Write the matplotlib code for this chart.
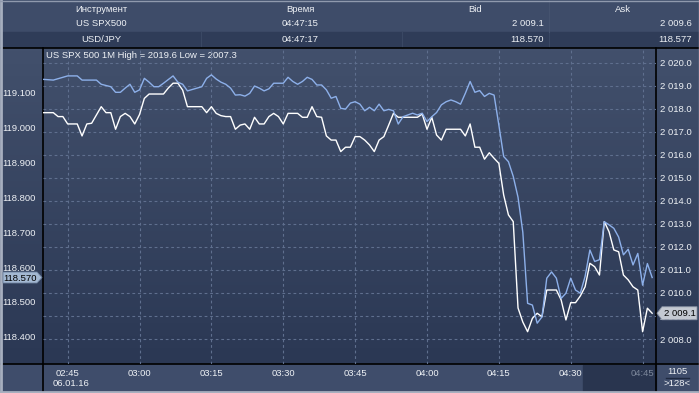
import matplotlib
matplotlib.use("Agg")
import matplotlib.pyplot as plt
import numpy as np
from matplotlib.patches import Rectangle, Polygon

plt.rcParams['font.family'] = ['Liberation Sans', 'DejaVu Sans']

W, H = 699, 393

# minutes after 02:40 (06.01.16), USD/JPY close (left scale, blue line)
jpy_t = [0, 2, 5, 7, 8, 11, 12, 14, 15, 16, 17, 18, 19, 20, 21, 22, 23, 24, 25, 27,
         28, 29, 30, 32, 33, 34, 35, 36, 37, 38, 39, 40, 41, 42, 43, 44, 45, 46, 47, 48,
         50, 51, 52, 53, 54, 55, 56, 57, 58, 59, 60, 61, 62, 63, 64, 65, 66, 67, 68, 69,
         70, 71, 72, 73, 74, 75, 76, 77, 78, 79, 80, 81, 82, 83, 84, 85, 86, 87, 88, 89,
         90, 91, 92, 93, 94, 95, 96, 97, 98, 99, 100, 101, 102, 103, 104, 105, 106, 107, 108, 109,
         110, 111, 112, 113, 114, 115, 116, 117, 118, 119, 120, 121, 122, 123, 124, 125, 126, 127]
jpy_v = [119.138, 119.136, 119.148, 119.148, 119.136, 119.136, 119.124, 119.117, 119.101, 119.101,
         119.113, 119.124, 119.101, 119.108, 119.141, 119.130, 119.117, 119.117, 119.127, 119.148,
         119.130, 119.124, 119.105, 119.113, 119.117, 119.141, 119.151, 119.139, 119.130, 119.124,
         119.113, 119.093, 119.094, 119.090, 119.098, 119.119, 119.113, 119.105, 119.111, 119.127,
         119.127, 119.144, 119.132, 119.124, 119.132, 119.144, 119.138, 119.122, 119.122, 119.108,
         119.084, 119.089, 119.055, 119.053, 119.070, 119.074, 119.067, 119.048, 119.058, 119.048,
         119.067, 119.048, 119.052, 119.048, 119.010, 119.031, 119.036, 119.041, 119.036, 119.041,
         119.017, 119.031, 119.043, 119.065, 119.074, 119.079, 119.074, 119.067, 119.098, 119.132,
         119.101, 119.106, 119.089, 119.098, 119.093, 119.007, 118.917, 118.902, 118.860, 118.800,
         118.700, 118.496, 118.491, 118.439, 118.457, 118.568, 118.586, 118.568, 118.510, 118.525,
         118.568, 118.534, 118.525, 118.573, 118.649, 118.616, 118.621, 118.730, 118.721, 118.711,
         118.686, 118.635, 118.651, 118.606, 118.639, 118.548, 118.610, 118.570]

# US SPX 500 close (right scale, white line)
spx_t = [0, 2, 3, 4, 5, 7, 8, 9, 10, 12, 13, 14, 15, 16, 17, 18, 19, 20, 21, 22,
         25, 26, 27, 28, 29, 30, 33, 34, 35, 36, 37, 38, 39, 40, 41, 42, 43, 44, 45, 46,
         47, 48, 49, 50, 51, 53, 54, 55, 56, 57, 58, 59, 60, 61, 62, 63, 64, 65, 66, 67,
         68, 69, 70, 71, 72, 73, 74, 78, 79, 80, 81, 82, 83, 84, 87, 88, 89, 90, 91, 92,
         93, 94, 95, 96, 97, 98, 99, 100, 101, 102, 103, 104, 105, 107, 108, 109, 110, 111, 112, 113,
         114, 115, 116, 117, 118, 119, 120, 121, 122, 123, 124, 125, 126, 127]
spx_v = [2017.83, 2017.83, 2017.66, 2017.66, 2017.34, 2017.34, 2016.82, 2017.34, 2017.37, 2018.09,
         2017.83, 2017.83, 2017.11, 2017.66, 2017.80, 2017.66, 2017.34, 2017.75, 2018.45, 2018.64,
         2018.64, 2018.90, 2019.11, 2019.11, 2018.81, 2018.09, 2018.09, 2017.83, 2018.09, 2017.80,
         2017.70, 2017.66, 2017.66, 2017.11, 2017.29, 2017.34, 2017.11, 2017.63, 2017.34, 2017.34,
         2017.66, 2017.80, 2017.66, 2017.34, 2017.80, 2017.80, 2017.63, 2017.63, 2018.09, 2017.66,
         2017.63, 2016.82, 2016.64, 2016.64, 2016.14, 2016.33, 2016.33, 2016.79, 2016.79, 2016.64,
         2016.43, 2016.14, 2016.64, 2016.79, 2017.29, 2017.80, 2017.63, 2017.63, 2017.77, 2017.11,
         2017.63, 2016.86, 2016.64, 2017.11, 2017.11, 2016.82, 2017.34, 2016.33, 2016.33, 2015.81,
         2016.09, 2015.85, 2015.63, 2014.26, 2013.39, 2013.10, 2009.35, 2008.74, 2008.32, 2008.90,
         2009.12, 2008.97, 2010.13, 2010.13, 2009.70, 2008.83, 2009.58, 2009.58, 2009.87, 2010.27,
         2011.29, 2011.14, 2010.78, 2013.10, 2012.66, 2011.87, 2011.79, 2010.78, 2010.57, 2010.27,
         2010.13, 2008.32, 2009.34, 2009.12]

tick_t = [5, 20, 35, 50, 65, 80, 95, 110, 125]
tick_lab = ["02:45", "03:00", "03:15", "03:30", "03:45", "04:00", "04:15", "04:30", "04:45"]
spx_ticks = list(range(2008, 2021))
jpy_ticks = [118.4, 118.5, 118.6, 118.7, 118.8, 118.9, 119.0, 119.1]

head_cols = ["Инструмент", "Время", "Bid", "Ask"]
rows = [["US SPX500", "04:47:15", "2 009.1", "2 009.6"],
        ["USD/JPY", "04:47:17", "118.570", "118.577"]]

txt = '#eef1f5'
fs = 6.8

fig = plt.figure(figsize=(W / 100, H / 100), dpi=100)

# background in pixel coords
bg = fig.add_axes([0, 0, 1, 1])
bg.set_xlim(0, W)
bg.set_ylim(H, 0)
bg.axis('off')
bg.add_patch(Rectangle((0, 0), W, H, color='#3e4c69'))
bg.add_patch(Rectangle((0, 32), W, 16, color='#2f3c58'))
grad = np.linspace(0, 1, 100).reshape(-1, 1)
top = np.array([66, 80, 108]) / 255
bot = np.array([43, 56, 84]) / 255
img = top + (bot - top) * grad[:, :, None]
bg.imshow(img, extent=[0, W, 364, 48], aspect='auto', zorder=1)
bg.add_patch(Rectangle((0, 364), W, H - 364, color='#3f4d6b', zorder=1))
bg.add_patch(Rectangle((583, 365), 73, 26, color='#29354f', zorder=2))
for xs in [201, 402, 549]:
    bg.plot([xs, xs], [32, 48], color='#3a4864', lw=0.8, zorder=2)
bg.plot([549, 549], [0, 32], color='#45536f', lw=0.8, zorder=2)
for yy in [48, 364]:
    bg.plot([0, W], [yy, yy], color='black', lw=1.2, zorder=3)
for xx in [43, 656]:
    bg.plot([xx, xx], [48, 391], color='black', lw=1.2, zorder=3)
# outer frame
bg.plot([0.8, 0.8], [0, H], color='#a7afbf', lw=2, zorder=4)
bg.plot([0, W], [392, 392], color='#a7afbf', lw=2, zorder=4)
bg.plot([0, W], [0.5, 0.5], color='#8f99ad', lw=1, zorder=4)
bg.plot([698.5, 698.5], [0, H], color='#8f99ad', lw=1, zorder=4)

# header table
hx = [101, 300, 475, 623]
for x, s in zip(hx, head_cols):
    bg.text(x, 9, s, color=txt, fontsize=fs, ha='center', va='center', zorder=5)
for ry, r in zip([24, 40], rows):
    bg.text(101, ry, r[0], color=txt, fontsize=fs, ha='center', va='center', zorder=5)
    bg.text(300, ry, r[1], color=txt, fontsize=fs, ha='center', va='center', zorder=5)
    bg.text(544, ry, r[2], color=txt, fontsize=fs, ha='right', va='center', zorder=5)
    bg.text(692, ry, r[3], color=txt, fontsize=fs, ha='right', va='center', zorder=5)

bg.text(46, 55, "US SPX 500 1M High = 2019.6 Low = 2007.3", color=txt, fontsize=fs,
        ha='left', va='center', zorder=5)
bg.text(71, 384, "06.01.16", color=txt, fontsize=fs, ha='center', va='center', zorder=5)
bg.text(677, 372, "1105", color=txt, fontsize=fs, ha='center', va='center', zorder=5)
bg.plot([666, 689], [378, 378], color='#1e2940', lw=1, zorder=5)
bg.text(677, 384, ">128<", color=txt, fontsize=fs, ha='center', va='center', zorder=5)

# chart axes: ax = SPX (right scale, carries grid), ax2 = USD/JPY (left scale)
ax = fig.add_axes([43 / W, 1 - 364 / H, 613 / W, 316 / H])
ax.patch.set_alpha(0)
ax2 = ax.twinx()

ax.set_xlim(-0.15, 127.8)
ax.set_ylim(2006.917, 2020.638)
for s in ax.spines.values():
    s.set_visible(False)
ax.set_yticks(spx_ticks)
ax.set_yticklabels([f"{v:,.1f}".replace(",", " ") for v in spx_ticks])
ax.set_xticks(tick_t)
ax.set_xticklabels(tick_lab)
ax.tick_params(axis='y', left=False, right=True, labelleft=False, labelright=True,
               length=0, pad=3, labelsize=fs, labelcolor=txt)
ax.tick_params(axis='x', length=0, pad=3.5, labelsize=fs, labelcolor=txt)
ax.get_xticklabels()[-1].set_color('#7c879b')
ax.grid(True, color='#5f6f8e', ls=(0, (2.5, 2.5)), lw=0.8)
ax.plot(spx_t, spx_v, color='white', lw=1.0, zorder=3)

ax2.set_ylim(118.322, 119.228)
for s in ax2.spines.values():
    s.set_visible(False)
ax2.set_yticks(jpy_ticks)
ax2.set_yticklabels([f"{v:.3f}" for v in jpy_ticks])
ax2.tick_params(axis='y', left=True, right=False, labelleft=True, labelright=False,
                length=0, pad=5, labelsize=fs, labelcolor=txt)
ax2.plot(jpy_t, jpy_v, color='#8db0ea', lw=1.0, zorder=3)

# overlay for the last price markers (on top of tick labels)
ov = fig.add_axes([0, 0, 1, 1])
ov.set_xlim(0, W)
ov.set_ylim(H, 0)
ov.axis('off')
ov.patch.set_alpha(0)

fig.canvas.draw()
yj = H - ax2.transData.transform((jpy_t[-1], jpy_v[-1]))[1]
ys = H - ax.transData.transform((spx_t[-1], spx_v[-1]))[1]
ov.add_patch(Polygon([(3, yj - 5.5), (37, yj - 5.5), (42, yj), (37, yj + 5.5), (3, yj + 5.5)],
                     closed=True, fc='#a3b8d2', ec='#6c7f9c', lw=0.6))
ov.text(20, yj + 0.5, f"{jpy_v[-1]:.3f}", color='black', fontsize=fs, ha='center', va='center')
ov.add_patch(Polygon([(657, ys), (662, ys - 6.5), (697, ys - 6.5), (697, ys + 6.5), (662, ys + 6.5)],
                     closed=True, fc='#c4c9d2', ec='#8a93a5', lw=0.6))
ov.text(680, ys + 0.5, f"{spx_v[-1]:,.1f}".replace(",", " "), color='black', fontsize=fs,
        ha='center', va='center')

fig.savefig("out.png", dpi=100)
